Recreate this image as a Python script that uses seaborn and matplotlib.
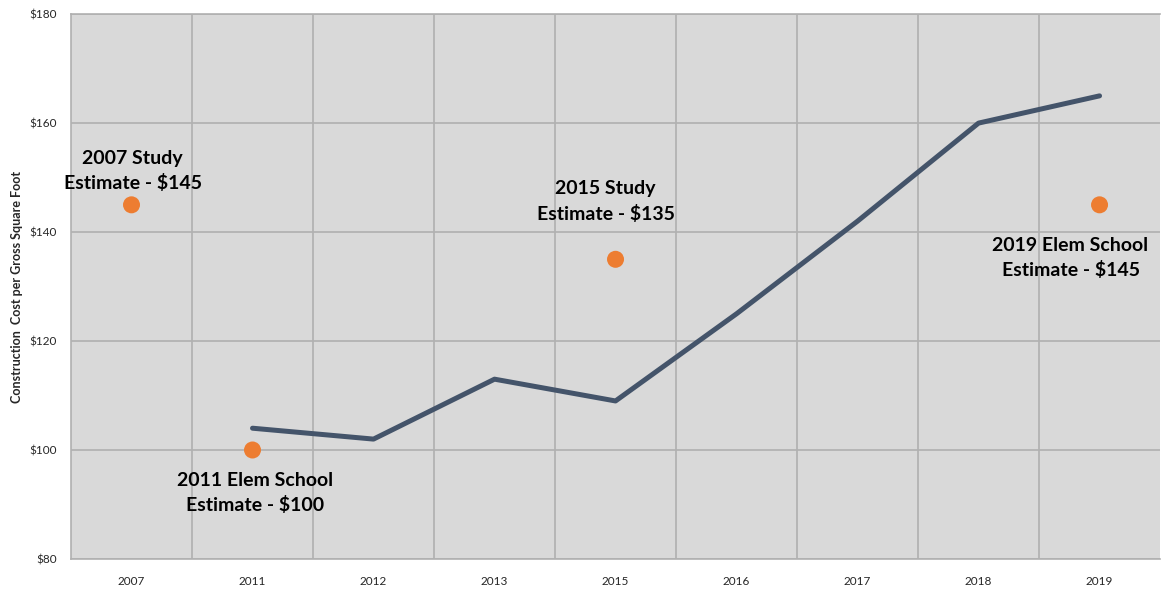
import numpy as np
import pandas as pd
import seaborn as sns
import matplotlib.pyplot as plt
from matplotlib.ticker import FixedLocator

# Dados
v_anos = ['2007', '2011', '2012', '2013', '2015', '2016', '2017', '2018', '2019']

v_anos_linha = ['2011', '2012', '2013', '2015', '2016', '2017', '2018', '2019']
v_custo_linha = [104, 102, 113, 109, 125, 142, 160, 165]

v_anos_estimativa = ['2007', '2011', '2015', '2019']
v_custo_estimativa = [145, 100, 135, 145]
v_rotulos_estimativa = ['2007 Study\nEstimate - $145',
                        '2011 Elem School\nEstimate - $100',
                        '2015 Study\nEstimate - $135',
                        '2019 Elem School\nEstimate - $145']
v_deslocamentos = [(1, 34), (3, -43), (-10, 58), (-29, -53)]

v_ticks_y = [80, 100, 120, 140, 160, 180]

# posição categórica
v_pos = {a: i for i, a in enumerate(v_anos)}
df_linha = pd.DataFrame({'x': [v_pos[a] for a in v_anos_linha], 'custo': v_custo_linha})
df_est = pd.DataFrame({'x': [v_pos[a] for a in v_anos_estimativa], 'custo': v_custo_estimativa})

sns.set_theme(style='white')
plt.rcParams['font.family'] = ['Lato', 'DejaVu Sans']

fig = plt.figure(figsize=(11.64, 5.89), dpi=100)
ax = fig.add_axes([0.061, 0.051, 0.9356, 0.925])
ax.set_facecolor('#d9d9d9')

sns.lineplot(data=df_linha, x='x', y='custo', color='#44546a', linewidth=3.6,
             ax=ax, zorder=3)
sns.scatterplot(data=df_est, x='x', y='custo', color='#ed7d31', s=150,
                edgecolor='none', ax=ax, zorder=4)

for xi, yi, txt, (dx, dy) in zip(df_est['x'], df_est['custo'], v_rotulos_estimativa, v_deslocamentos):
    ax.annotate(txt, (xi, yi), xytext=(dx, dy), textcoords='offset pixels',
                ha='center', va='center', fontsize=14, fontweight='bold',
                color='black', linespacing=1.5)

ax.set_xlim(-0.5, len(v_anos) - 0.5)
ax.set_ylim(80, 180)
ax.set_xticks(range(len(v_anos)))
ax.set_xticklabels(v_anos, fontsize=8.5)
ax.set_yticks(v_ticks_y)
ax.set_yticklabels([f'${v}' for v in v_ticks_y], fontsize=8.5)
ax.xaxis.set_minor_locator(FixedLocator(np.arange(0.5, len(v_anos) - 1, 1)))
ax.tick_params(axis='both', which='both', length=0)
ax.tick_params(axis='x', pad=12)
ax.tick_params(axis='y', pad=10)

ax.grid(axis='y', which='major', color='#b0b0b0', linewidth=1.2)
ax.grid(axis='x', which='minor', color='#b0b0b0', linewidth=1.2)
ax.set_axisbelow(True)

ax.spines['right'].set_visible(False)
for s in ['left', 'bottom', 'top']:
    ax.spines[s].set_color('#b0b0b0')
    ax.spines[s].set_linewidth(1.2)

ax.set_xlabel('')
ax.set_ylabel('Construction  Cost per Gross Square Foot', fontsize=9,
              fontweight='bold', labelpad=5)

fig.savefig('out.png', dpi=100)
